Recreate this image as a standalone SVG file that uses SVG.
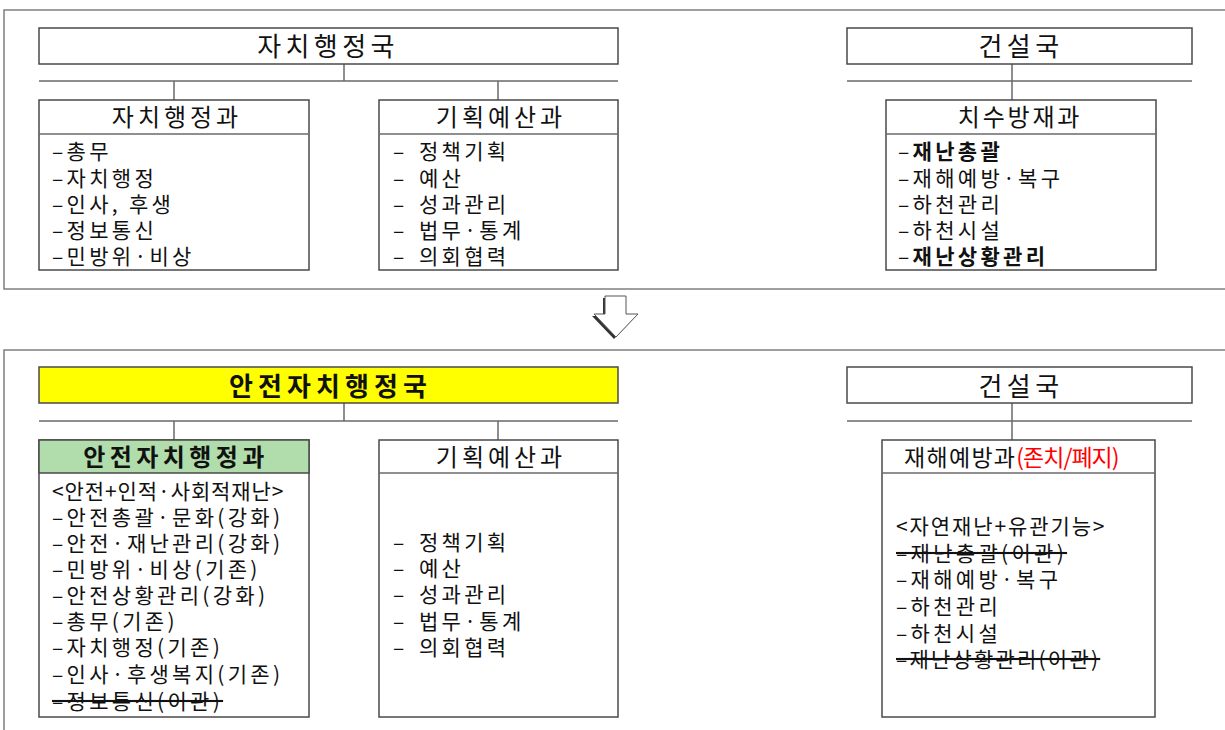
<svg xmlns="http://www.w3.org/2000/svg" width="1225" height="730" viewBox="0 0 1225 730">
<style>
.frame{fill:none;stroke:#7f7f7f;stroke-width:1.5}
.box{fill:#fff;stroke:#4a4a4a;stroke-width:1.5}
.ln{stroke:#6a6a6a;stroke-width:1.5;fill:none}
text{font-family:"Noto Sans CJK KR","Noto Sans",sans-serif;fill:#111}
.t1{font-size:26px;text-anchor:middle;letter-spacing:4.4px}
.t2{font-size:24px;text-anchor:middle;letter-spacing:4px}
.it{font-size:21px;letter-spacing:3.3px}
.b{font-weight:bold}
.st{text-decoration:line-through}
.red{fill:#ff0000}
</style>
<rect width="1225" height="730" fill="#fff"/>
<rect class="frame" x="4" y="10" width="1230" height="279"/>
<rect class="frame" x="4" y="350" width="1230" height="400"/>

<g id="connectors">
<path class="ln" d="M344 64V81M39 81H618M174 81V100M498 81V100"/>
<path class="ln" d="M1012 64V100M847 81H1192"/>
<path class="ln" d="M344 403V421M39 421H618M174 421V440M498 421V440"/>
<path class="ln" d="M1012 403V440M847 421H1192"/>
</g>

<g id="arrow">
<polygon points="603,298 624,298 624,316 636,316 614,339 592,316 603,316" fill="#333"/>
<polygon points="605,296 626,296 626,314 638,314 616,337 594,314 605,314" fill="#fff" stroke="#555" stroke-width="1"/>
</g>

<g id="top-bureau1">
<rect class="box" x="39" y="28" width="579" height="36"/>
<text class="t1" x="328" y="56">자치행정국</text>
</g>
<g id="top-dept1">
<rect class="box" x="39" y="100" width="270" height="170"/>
<line class="ln" x1="39" y1="134" x2="309" y2="134"/>
<text class="t2" x="177" y="126">자치행정과</text>
<text class="it" x="52" y="159">–총무</text>
<text class="it" x="52" y="185.5">–자치행정</text>
<text class="it" x="52" y="212">–인사, 후생</text>
<text class="it" x="52" y="238">–정보통신</text>
<text class="it" x="52" y="264">–민방위·비상</text>
</g>
<g id="top-dept2">
<rect class="box" x="379" y="100" width="239" height="170"/>
<line class="ln" x1="379" y1="134" x2="618" y2="134"/>
<text class="t2" x="501" y="126">기획예산과</text>
<text class="it" x="393" y="159">–<tspan x="419">정책기획</tspan></text>
<text class="it" x="393" y="185.5">–<tspan x="419">예산</tspan></text>
<text class="it" x="393" y="212">–<tspan x="419">성과관리</tspan></text>
<text class="it" x="393" y="238">–<tspan x="419">법무·통계</tspan></text>
<text class="it" x="393" y="264">–<tspan x="419">의회협력</tspan></text>
</g>
<g id="top-bureau2">
<rect class="box" x="847" y="28" width="345" height="36"/>
<text class="t1" x="1021" y="56">건설국</text>
</g>
<g id="top-dept3">
<rect class="box" x="886" y="100" width="270" height="170"/>
<line class="ln" x1="886" y1="134" x2="1156" y2="134"/>
<text class="t2" x="1020" y="126" style="letter-spacing:2.8px">치수방재과</text>
<text class="it" x="898" y="159">–<tspan class="b">재난총괄</tspan></text>
<text class="it" x="898" y="185.5">–재해예방·복구</text>
<text class="it" x="898" y="212">–하천관리</text>
<text class="it" x="898" y="238">–하천시설</text>
<text class="it" x="898" y="264">–<tspan class="b">재난상황관리</tspan></text>
</g>

<g id="bot-bureau1">
<rect class="box" x="39" y="367" width="579" height="36" style="fill:#ffff00"/>
<text class="t1 b" x="330.5" y="396" style="letter-spacing:5.1px">안전자치행정국</text>
</g>
<g id="bot-dept1">
<rect class="box" x="39" y="440" width="270" height="277"/>
<rect x="39" y="440" width="270" height="33" fill="#b1dcab" stroke="#4a4a4a" stroke-width="1.5"/>
<text class="t2 b" x="176" y="466" style="letter-spacing:4.4px">안전자치행정과</text>
<text class="it" x="52" y="499" style="letter-spacing:0.9px">&lt;안전+인적·사회적재난&gt;</text>
<text class="it" x="52" y="525">–안전총괄·문화(강화)</text>
<text class="it" x="52" y="551">–안전·재난관리(강화)</text>
<text class="it" x="52" y="577">–민방위·비상(기존)</text>
<text class="it" x="52" y="603">–안전상황관리(강화)</text>
<text class="it" x="52" y="629">–총무(기존)</text>
<text class="it" x="52" y="655">–자치행정(기존)</text>
<text class="it" x="52" y="682">–인사·후생복지(기존)</text>
<text class="it st" x="52" y="709">–정보통신(이관)</text>
</g>
<g id="bot-dept2">
<rect class="box" x="379" y="440" width="239" height="277"/>
<line class="ln" x1="379" y1="473" x2="618" y2="473"/>
<text class="t2" x="501" y="466">기획예산과</text>
<text class="it" x="393" y="550">–<tspan x="419">정책기획</tspan></text>
<text class="it" x="393" y="576">–<tspan x="419">예산</tspan></text>
<text class="it" x="393" y="602">–<tspan x="419">성과관리</tspan></text>
<text class="it" x="393" y="629">–<tspan x="419">법무·통계</tspan></text>
<text class="it" x="393" y="655">–<tspan x="419">의회협력</tspan></text>
</g>
<g id="bot-bureau2">
<rect class="box" x="847" y="367" width="345" height="36"/>
<text class="t1" x="1021" y="396">건설국</text>
</g>
<g id="bot-dept3">
<rect class="box" x="882" y="440" width="273" height="277"/>
<line class="ln" x1="882" y1="473" x2="1155" y2="473"/>
<text x="904" y="466" style="font-size:23px;letter-spacing:1.3px">재해예방과<tspan class="red" style="letter-spacing:-1px">(존치/폐지)</tspan></text>
<text class="it" x="896" y="534" style="letter-spacing:1.9px">&lt;자연재난+유관기능&gt;</text>
<text class="it st" x="896" y="561">–재난총괄(이관)</text>
<text class="it" x="896" y="587">–재해예방·복구</text>
<text class="it" x="896" y="614">–하천관리</text>
<text class="it" x="896" y="641">–하천시설</text>
<text class="it st" x="896" y="667" style="letter-spacing:2.2px">–재난상황관리(이관)</text>
</g>
</svg>
